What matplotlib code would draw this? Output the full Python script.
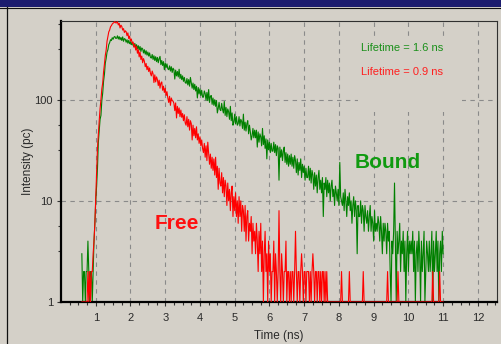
import numpy as np
import matplotlib
matplotlib.use("Agg")
import matplotlib.pyplot as plt
from matplotlib.patches import Rectangle
from matplotlib.lines import Line2D
from matplotlib.ticker import FixedLocator, NullFormatter

plt.rcParams["font.family"] = ["Liberation Sans", "DejaVu Sans"]

# ---- decay histograms (photon counts per 25 ps time channel) ----
t_start_ns = 0.600
channel_ns = 0.025

free_counts = [
    1, 1, 1, 1, 1, 1, 1, 2, 1, 2, 1, 2, 2, 3, 4, 6, 11, 19, 33, 46,
    62, 82, 100, 128, 146, 188, 224, 274, 310, 378, 418, 468, 488, 526, 540, 560, 572, 578, 592, 575,
    575, 590, 548, 570, 512, 546, 530, 488, 505, 462, 480, 470, 430, 458, 402, 425, 380, 398, 360, 372,
    330, 352, 310, 335, 288, 312, 265, 296, 250, 270, 232, 255, 240, 212, 228, 198, 214, 190, 206, 182,
    172, 192, 180, 148, 176, 150, 168, 158, 138, 156, 130, 146, 150, 124, 136, 118, 130, 110, 120, 104,
    94, 108, 88, 104, 98, 97, 92, 78, 93, 66, 86, 73, 83, 68, 79, 67, 73, 62, 71, 59,
    56, 68, 54, 64, 50, 62, 58, 40, 56, 44, 52, 42, 54, 40, 46, 37, 43, 35, 40, 33,
    30, 37, 27, 35, 25, 38, 30, 23, 29, 21, 27, 20, 26, 18, 27, 17, 22, 13, 21, 15,
    14, 19, 12, 17, 11, 16, 14, 9, 15, 10, 13, 8, 12, 14, 7, 11, 8, 12, 7, 10,
    6, 11, 7, 10, 5, 9, 8, 5, 9, 4, 7, 8, 4, 6, 5, 7, 3, 6, 4, 5,
    3, 6, 4, 2, 5, 3, 6, 2, 4, 1, 3, 5, 2, 3, 1, 4, 2, 3, 1, 2,
    2, 4, 1, 3, 2, 1, 2, 8, 2, 1, 3, 2, 1, 2, 2, 4, 1, 2, 2, 1,
    2, 1, 2, 2, 1, 2, 5, 2, 1, 2, 2, 1, 2, 3, 2, 1, 2, 2, 1, 2,
    2, 2, 1, 2, 1, 2, 3, 2, 1, 2, 2, 1, 2, 2, 1, 2, 1, 2, 2, 1,
    2, 1, 2, 1, 1, 1, 1, 1, 1, 1, 1, 1, 1, 1, 1, 1, 1, 1, 1, 2,
    1, 1, 1, 1, 1, 1, 1, 1, 2, 1, 1, 1, 1, 1, 1, 1, 1, 1, 1, 1,
    1, 1, 1, 1, 2, 1, 1, 1, 1, 1, 1, 1, 1, 1, 1, 1, 1, 1, 1, 1,
    1, 1, 1, 1, 1, 1, 1, 1, 1, 1, 1, 1, 2, 1, 1, 1, 1, 1, 1, 1,
    1, 1, 1, 1, 2, 1, 1, 1, 1, 1, 1, 1, 1, 1, 1, 1, 1, 1, 1, 1,
    1, 1, 1, 1, 1, 1, 1, 1, 1, 1, 1, 1, 1, 1, 1, 1, 1, 1, 1, 1,
    1, 1, 1, 1, 2, 1, 1, 1, 1, 1, 1, 1, 2, 1, 1, 1, 1,
]

bound_counts = [
    3, 1, 2, 2, 1, 2, 2, 4, 2, 1, 2, 2, 1, 2, 4, 6, 10, 14, 21, 38,
    50, 64, 70, 98, 116, 152, 178, 230, 256, 295, 312, 350, 366, 392, 384, 410, 396, 416, 422, 404,
    405, 428, 398, 420, 392, 412, 385, 418, 378, 402, 396, 370, 392, 362, 386, 358, 374, 350, 370, 345,
    336, 360, 326, 350, 318, 342, 310, 336, 300, 325, 318, 290, 312, 282, 305, 276, 296, 270, 290, 262,
    258, 280, 250, 272, 244, 266, 238, 262, 232, 255, 268, 222, 244, 218, 238, 198, 230, 208, 226, 202,
    198, 216, 192, 212, 186, 205, 198, 160, 196, 172, 190, 168, 200, 162, 178, 158, 172, 152, 166, 148,
    145, 162, 140, 158, 136, 166, 147, 130, 146, 126, 142, 122, 136, 104, 132, 114, 128, 110, 124, 106,
    106, 122, 115, 99, 118, 98, 126, 94, 108, 110, 90, 104, 88, 100, 86, 98, 74, 82, 94, 80,
    78, 92, 80, 74, 96, 70, 84, 68, 81, 76, 64, 86, 62, 74, 56, 60, 72, 58, 68, 56,
    58, 68, 55, 64, 61, 52, 72, 50, 60, 49, 58, 62, 46, 56, 48, 40, 44, 52, 42, 50,
    42, 50, 34, 48, 38, 46, 43, 35, 52, 36, 44, 33, 41, 26, 40, 32, 38, 30, 37, 31,
    31, 38, 30, 36, 28, 35, 33, 16, 34, 27, 32, 25, 31, 34, 24, 30, 23, 29, 22, 28,
    23, 29, 22, 27, 21, 28, 25, 19, 26, 18, 24, 20, 26, 17, 23, 19, 22, 16, 21, 17,
    17, 22, 16, 21, 15, 20, 18, 13, 19, 14, 18, 12, 17, 20, 13, 16, 12, 17, 7, 15,
    13, 17, 11, 16, 12, 15, 10, 14, 16, 11, 13, 9, 14, 12, 10, 13, 9, 24, 11, 10,
    9, 12, 8, 13, 10, 7, 11, 9, 12, 8, 10, 6, 9, 11, 7, 10, 8, 3, 9, 7,
    7, 10, 6, 9, 8, 5, 9, 7, 6, 8, 5, 7, 9, 5, 7, 6, 4, 8, 5, 6,
    5, 7, 6, 4, 7, 5, 3, 6, 4, 6, 5, 3, 6, 4, 5, 2, 1, 4, 3, 5,
    15, 4, 1, 5, 3, 4, 6, 2, 4, 3, 5, 2, 4, 1, 3, 5, 2, 4, 3, 4,
    3, 5, 2, 4, 1, 3, 4, 2, 5, 3, 1, 4, 2, 3, 5, 1, 2, 4, 3, 2,
    4, 2, 3, 5, 1, 4, 2, 3, 5, 2, 4, 1, 3, 4, 2, 5, 3,
]

x_ticks = [1, 2, 3, 4, 5, 6, 7, 8, 9, 10, 11, 12]
y_ticks = [1, 10, 100]
y_tick_labels = ["1", "10", "100"]

time_free = t_start_ns + channel_ns * np.arange(len(free_counts))
time_bound = t_start_ns + channel_ns * np.arange(len(bound_counts))

BG = "#d4d0c8"
RED = "#ff0000"
GREEN = "#008000"

W, H = 501, 344
fig = plt.figure(figsize=(W / 100, H / 100), dpi=100)
fig.patch.set_facecolor(BG)

# window title strip and left frame edge
fig.add_artist(Rectangle((0, 1 - 7 / H), 1, 7 / H, transform=fig.transFigure,
                         facecolor="#1c1c6e", edgecolor="none"))
fig.add_artist(Line2D([0, 1], [1 - 7.5 / H] * 2, transform=fig.transFigure,
                      color="#101010", lw=0.8))
fig.add_artist(Line2D([6.5 / W] * 2, [0, 1 - 7 / H], transform=fig.transFigure,
                      color="#101010", lw=0.9))

ax = fig.add_axes([61 / W, 42 / H, 436 / W, 281 / H])
ax.set_facecolor(BG)
ax.set_yscale("log")
ax.set_xlim(0, 12.55)
ax.set_ylim(1, 600)

ax.plot(time_bound, bound_counts, color=GREEN, lw=0.8, zorder=2)
ax.plot(time_free, free_counts, color=RED, lw=0.8, zorder=3)

# grid
ax.set_axisbelow(True)
ax.grid(True, which="major", color="#8a8a8a", lw=0.8, linestyle=(0, (4, 4)))

# panel behind the lifetime annotations
ax.add_patch(Rectangle((8.56, 75), 11.53 - 8.56, 390 - 75, facecolor=BG,
                       edgecolor="none", zorder=1))

# ticks
ax.xaxis.set_major_locator(FixedLocator(x_ticks))
ax.xaxis.set_minor_locator(FixedLocator(np.arange(0.25, 12.55, 0.25)))
ax.yaxis.set_major_locator(FixedLocator(y_ticks))
ax.set_yticklabels(y_tick_labels)
ax.yaxis.set_minor_locator(FixedLocator([10 ** (d + f) for d in range(3)
                                         for f in (0.5, 0.75)]))
ax.yaxis.set_minor_formatter(NullFormatter())
ax.tick_params(axis="both", which="major", direction="out", length=3,
               width=0.8, color="#333333", labelsize=8, labelcolor="#2a2a2a")
ax.tick_params(axis="both", which="minor", direction="out", length=2.2,
               width=0.8, color="#333333")
ax.tick_params(axis="x", which="major", pad=5)
ax.tick_params(axis="y", which="major", pad=2.8)

for side in ("left", "bottom"):
    ax.spines[side].set_linewidth(1.6)
    ax.spines[side].set_color("black")
for side in ("top", "right"):
    ax.spines[side].set_linewidth(0.8)
    ax.spines[side].set_color("#303030")

ax.set_xlabel("Time (ns)", fontsize=8.5, color="#2a2a2a", labelpad=5)
ax.set_ylabel("Intensity (pc)", fontsize=8.5, color="#2a2a2a")
ax.yaxis.set_label_coords(-0.063, 0.5)

# annotations
narrow = ["Liberation Sans Narrow", "Liberation Sans", "DejaVu Sans"]
ax.text(9.81, 322, "Lifetime = 1.6 ns", color="#1a901a", fontsize=8,
        family=narrow, ha="center", va="center", zorder=4)
ax.text(9.81, 187, "Lifetime = 0.9 ns", color="#ff2020", fontsize=8,
        family=narrow, ha="center", va="center", zorder=4)
ax.text(9.41, 24, "Bound", color="#109a10", fontsize=15, fontweight="bold",
        ha="center", va="center", zorder=4)
ax.text(3.34, 6.0, "Free", color="#ff1010", fontsize=15, fontweight="bold",
        ha="center", va="center", zorder=4)

fig.savefig("out.png", dpi=100, facecolor=BG)
